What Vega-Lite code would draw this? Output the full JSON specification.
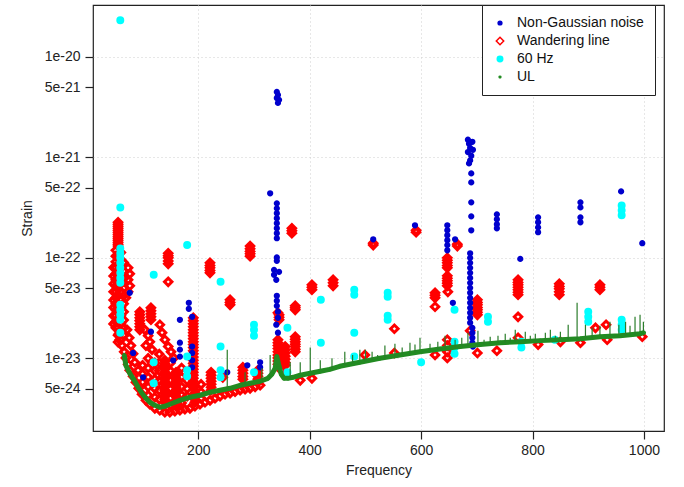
{
  "$schema": "https://vega.github.io/schema/vega-lite/v6.json",
  "width": 571,
  "height": 426,
  "autosize": {"type": "none"},
  "padding": {"left": 93, "top": 5, "right": 20, "bottom": 56},
  "background": "white",
  "config": {
    "font": "Liberation Sans",
    "view": {"stroke": "#222", "strokeWidth": 1.2},
    "axis": {"labelFont": "Liberation Sans", "titleFont": "Liberation Sans", "labelFontSize": 14, "titleFontSize": 14, "titleFontWeight": "normal", "labelColor": "#222", "titleColor": "#222", "tickColor": "#222", "tickSize": 8, "tickWidth": 1.2, "domain": false, "gridColor": "#cfcfcf", "gridDash": [1, 3], "gridWidth": 1},
    "legend": {"strokeColor": "#222", "fillColor": "white", "padding": 11, "labelFont": "Liberation Sans", "labelFontSize": 14, "labelColor": "#111", "labelOffset": 10, "rowPadding": 4, "symbolStrokeWidth": 1.5}
  },
  "datasets": {
    "pts": [
      {"t":"W","f":56,"h":2.26e-22},{"t":"W","f":56,"h":2.06e-22},{"t":"W","f":56,"h":1.88e-22},{"t":"W","f":56,"h":1.72e-22},{"t":"W","f":56,"h":1.57e-22},{"t":"W","f":56,"h":1.43e-22},{"t":"W","f":56,"h":1.31e-22},
      {"t":"W","f":56,"h":2.16e-22},{"t":"W","f":56,"h":1.97e-22},{"t":"W","f":56,"h":1.8e-22},{"t":"W","f":56,"h":1.64e-22},{"t":"W","f":56,"h":1.5e-22},{"t":"W","f":56,"h":1.37e-22},
      {"t":"W","f":56,"h":1.05e-22},{"t":"W","f":56,"h":8.5e-23},{"t":"W","f":56,"h":7.2e-23},{"t":"W","f":56,"h":5.8e-23},{"t":"W","f":56,"h":4.9e-23},{"t":"W","f":56,"h":4.2e-23},{"t":"W","f":56,"h":3.5e-23},{"t":"W","f":56,"h":2.9e-23},{"t":"W","f":56,"h":2.45e-23},{"t":"W","f":56,"h":2.05e-23},{"t":"W","f":56,"h":1.7e-23},{"t":"W","f":56,"h":1.45e-23},
      {"t":"W","f":48,"h":8.0e-23},{"t":"W","f":48,"h":6.6e-23},{"t":"W","f":48,"h":5.5e-23},{"t":"W","f":48,"h":4.6e-23},{"t":"W","f":48,"h":3.8e-23},{"t":"W","f":48,"h":3.2e-23},{"t":"W","f":48,"h":2.65e-23},{"t":"W","f":48,"h":2.2e-23},
      {"t":"W","f":66,"h":9.0e-23},{"t":"W","f":66,"h":7.4e-23},{"t":"W","f":66,"h":6.2e-23},{"t":"W","f":66,"h":5.0e-23},{"t":"W","f":66,"h":4.2e-23},{"t":"W","f":66,"h":3.5e-23},{"t":"W","f":66,"h":2.9e-23},{"t":"W","f":66,"h":2.4e-23},{"t":"W","f":66,"h":2.0e-23},{"t":"W","f":66,"h":1.7e-23},
      {"t":"W","f":52,"h":1.19e-22},{"t":"W","f":52,"h":1.04e-22},{"t":"W","f":52,"h":9.13e-23},{"t":"W","f":52,"h":7.95e-23},{"t":"W","f":52,"h":6.93e-23},{"t":"W","f":52,"h":6.04e-23},{"t":"W","f":52,"h":5.27e-23},{"t":"W","f":52,"h":4.59e-23},{"t":"W","f":52,"h":4.0e-23},{"t":"W","f":52,"h":3.49e-23},{"t":"W","f":52,"h":3.04e-23},{"t":"W","f":52,"h":2.65e-23},{"t":"W","f":52,"h":2.31e-23},{"t":"W","f":52,"h":2.01e-23},
      {"t":"W","f":61,"h":1.13e-22},{"t":"W","f":61,"h":9.55e-23},{"t":"W","f":61,"h":7.95e-23},{"t":"W","f":61,"h":6.62e-23},{"t":"W","f":61,"h":5.51e-23},{"t":"W","f":61,"h":4.59e-23},{"t":"W","f":61,"h":3.82e-23},{"t":"W","f":61,"h":3.18e-23},{"t":"W","f":61,"h":2.65e-23},{"t":"W","f":61,"h":2.21e-23},{"t":"W","f":61,"h":1.84e-23},{"t":"W","f":61,"h":1.53e-23},
      {"t":"W","f":74,"h":7.95e-23},{"t":"W","f":77,"h":6.93e-23},{"t":"W","f":74,"h":6.04e-23},{"t":"W","f":77,"h":5.27e-23},{"t":"W","f":74,"h":4.59e-23},{"t":"W","f":70,"h":4.0e-23},
      {"t":"W","f":58,"h":1.76e-23},{"t":"W","f":59,"h":1.53e-23},{"t":"W","f":63,"h":1.34e-23},{"t":"W","f":67,"h":1.16e-23},{"t":"W","f":70,"h":1.01e-23},{"t":"W","f":74,"h":8.72e-24},{"t":"W","f":77,"h":7.6e-24},{"t":"W","f":83,"h":6.62e-24},{"t":"W","f":88,"h":5.77e-24},{"t":"W","f":93,"h":5.03e-24},{"t":"W","f":99,"h":4.39e-24},{"t":"W","f":106,"h":3.82e-24},{"t":"W","f":113,"h":3.49e-24},{"t":"W","f":122,"h":3.18e-24},{"t":"W","f":131,"h":3.04e-24},{"t":"W","f":140,"h":2.91e-24},{"t":"W","f":149,"h":2.91e-24},{"t":"W","f":158,"h":2.97e-24},{"t":"W","f":167,"h":3.04e-24},{"t":"W","f":176,"h":3.11e-24},{"t":"W","f":185,"h":3.18e-24},{"t":"W","f":194,"h":3.33e-24},{"t":"W","f":203,"h":3.49e-24},{"t":"W","f":212,"h":3.65e-24},{"t":"W","f":221,"h":3.82e-24},{"t":"W","f":230,"h":4.0e-24},{"t":"W","f":239,"h":4.19e-24},{"t":"W","f":248,"h":4.39e-24},{"t":"W","f":257,"h":4.49e-24},{"t":"W","f":266,"h":4.65e-24},{"t":"W","f":275,"h":4.81e-24},{"t":"W","f":284,"h":4.92e-24},{"t":"W","f":293,"h":5.03e-24},{"t":"W","f":302,"h":5.2e-24},{"t":"W","f":311,"h":5.39e-24},
      {"t":"W","f":72,"h":1.92e-23},{"t":"W","f":76,"h":1.6e-23},{"t":"W","f":79,"h":1.34e-23},{"t":"W","f":83,"h":1.11e-23},{"t":"W","f":86,"h":9.13e-24},{"t":"W","f":92,"h":7.6e-24},
      {"t":"W","f":100,"h":8.5e-24},{"t":"W","f":100,"h":7.0e-24},{"t":"W","f":100,"h":5.8e-24},
      {"t":"W","f":110,"h":1.0e-23},{"t":"W","f":110,"h":8.0e-24},{"t":"W","f":110,"h":6.5e-24},{"t":"W","f":110,"h":5.2e-24},{"t":"W","f":110,"h":4.3e-24},
      {"t":"W","f":122,"h":9.0e-24},{"t":"W","f":122,"h":7.5e-24},{"t":"W","f":122,"h":6.2e-24},{"t":"W","f":122,"h":5.0e-24},{"t":"W","f":122,"h":4.1e-24},
      {"t":"W","f":130,"h":1.1e-23},{"t":"W","f":130,"h":9.0e-24},{"t":"W","f":130,"h":7.5e-24},{"t":"W","f":130,"h":6.0e-24},{"t":"W","f":130,"h":4.8e-24},{"t":"W","f":130,"h":3.9e-24},
      {"t":"W","f":150,"h":9.0e-24},{"t":"W","f":150,"h":7.5e-24},{"t":"W","f":150,"h":6.0e-24},{"t":"W","f":150,"h":5.0e-24},{"t":"W","f":150,"h":4.0e-24},{"t":"W","f":150,"h":3.4e-24},
      {"t":"W","f":170,"h":8.0e-24},{"t":"W","f":170,"h":6.5e-24},{"t":"W","f":170,"h":5.2e-24},{"t":"W","f":170,"h":4.3e-24},{"t":"W","f":170,"h":3.6e-24},
      {"t":"W","f":180,"h":6.0e-24},{"t":"W","f":180,"h":5.0e-24},{"t":"W","f":180,"h":4.2e-24},
      {"t":"W","f":205,"h":5.5e-24},{"t":"W","f":205,"h":4.6e-24},{"t":"W","f":205,"h":4.0e-24},
      {"t":"W","f":95,"h":2.91e-23},{"t":"W","f":95,"h":2.53e-23},{"t":"W","f":95,"h":2.21e-23},{"t":"W","f":95,"h":1.92e-23},{"t":"W","f":95,"h":2.72e-23},{"t":"W","f":95,"h":2.37e-23},{"t":"W","f":95,"h":2.06e-23},
      {"t":"W","f":115,"h":3.18e-23},{"t":"W","f":115,"h":2.78e-23},{"t":"W","f":115,"h":2.42e-23},{"t":"W","f":115,"h":2.97e-23},{"t":"W","f":115,"h":2.6e-23},
      {"t":"W","f":104,"h":1.92e-23},{"t":"W","f":110,"h":1.68e-23},{"t":"W","f":113,"h":1.46e-23},{"t":"W","f":106,"h":1.34e-23},{"t":"W","f":117,"h":1.22e-23},
      {"t":"W","f":131,"h":2.16e-23},{"t":"W","f":135,"h":1.8e-23},{"t":"W","f":140,"h":1.53e-23},{"t":"W","f":146,"h":1.31e-23},{"t":"W","f":151,"h":1.16e-23},{"t":"W","f":156,"h":1.01e-23},
      {"t":"W","f":140,"h":9.55e-24},{"t":"W","f":140,"h":8.33e-24},{"t":"W","f":140,"h":7.26e-24},{"t":"W","f":140,"h":6.32e-24},{"t":"W","f":140,"h":5.51e-24},{"t":"W","f":140,"h":4.81e-24},{"t":"W","f":140,"h":4.19e-24},{"t":"W","f":140,"h":3.65e-24},
      {"t":"W","f":140,"h":8.9e-24},{"t":"W","f":140,"h":7.8e-24},{"t":"W","f":140,"h":6.8e-24},{"t":"W","f":140,"h":5.9e-24},{"t":"W","f":140,"h":5.15e-24},{"t":"W","f":140,"h":4.5e-24},{"t":"W","f":140,"h":3.9e-24},
      {"t":"W","f":160,"h":7.26e-24},{"t":"W","f":160,"h":6.32e-24},{"t":"W","f":160,"h":5.51e-24},{"t":"W","f":160,"h":4.81e-24},{"t":"W","f":160,"h":4.19e-24},{"t":"W","f":164,"h":3.82e-24},{"t":"W","f":164,"h":3.33e-24},
      {"t":"W","f":160,"h":6.8e-24},{"t":"W","f":160,"h":5.9e-24},{"t":"W","f":160,"h":5.15e-24},{"t":"W","f":160,"h":4.5e-24},{"t":"W","f":162,"h":4.0e-24},{"t":"W","f":162,"h":3.55e-24},
      {"t":"W","f":191,"h":2.53e-23},{"t":"W","f":191,"h":2.21e-23},{"t":"W","f":191,"h":1.92e-23},{"t":"W","f":191,"h":1.68e-23},{"t":"W","f":191,"h":1.46e-23},{"t":"W","f":191,"h":1.28e-23},{"t":"W","f":191,"h":1.11e-23},{"t":"W","f":191,"h":9.55e-24},{"t":"W","f":191,"h":8.33e-24},{"t":"W","f":191,"h":7.26e-24},{"t":"W","f":191,"h":6.32e-24},{"t":"W","f":191,"h":5.51e-24},
      {"t":"W","f":191,"h":2.37e-23},{"t":"W","f":191,"h":2.06e-23},{"t":"W","f":191,"h":1.8e-23},{"t":"W","f":191,"h":1.57e-23},{"t":"W","f":191,"h":1.37e-23},{"t":"W","f":191,"h":1.19e-23},{"t":"W","f":191,"h":1.03e-23},{"t":"W","f":191,"h":8.9e-24},{"t":"W","f":191,"h":7.8e-24},{"t":"W","f":191,"h":6.8e-24},{"t":"W","f":191,"h":5.9e-24},{"t":"W","f":192,"h":5.15e-24},
      {"t":"W","f":194,"h":4.81e-24},{"t":"W","f":194,"h":4.19e-24},{"t":"W","f":194,"h":3.65e-24},{"t":"W","f":194,"h":4.5e-24},{"t":"W","f":194,"h":3.9e-24},
      {"t":"W","f":223,"h":7.26e-24},{"t":"W","f":223,"h":6.32e-24},{"t":"W","f":223,"h":5.51e-24},{"t":"W","f":223,"h":4.81e-24},{"t":"W","f":223,"h":6.8e-24},{"t":"W","f":223,"h":5.9e-24},{"t":"W","f":223,"h":5.15e-24},
      {"t":"W","f":280,"h":8.14e-24},{"t":"W","f":280,"h":7.09e-24},{"t":"W","f":280,"h":6.18e-24},{"t":"W","f":280,"h":7.6e-24},{"t":"W","f":280,"h":6.6e-24},
      {"t":"W","f":307,"h":7.6e-24},{"t":"W","f":307,"h":6.62e-24},{"t":"W","f":307,"h":5.77e-24},{"t":"W","f":307,"h":7.1e-24},{"t":"W","f":307,"h":6.2e-24},
      {"t":"W","f":257,"h":3.82e-23},{"t":"W","f":257,"h":3.41e-23},{"t":"W","f":257,"h":3.6e-23},{"t":"W","f":244,"h":6.47e-24},
      {"t":"W","f":146,"h":1.11e-22},{"t":"W","f":146,"h":1.0e-22},{"t":"W","f":146,"h":8.72e-23},{"t":"W","f":146,"h":1.05e-22},{"t":"W","f":146,"h":9.3e-23},{"t":"W","f":146,"h":5.77e-23},
      {"t":"W","f":221,"h":8.92e-23},{"t":"W","f":221,"h":7.95e-23},{"t":"W","f":221,"h":7.09e-23},{"t":"W","f":221,"h":8.4e-23},{"t":"W","f":221,"h":7.5e-23},
      {"t":"W","f":293,"h":1.31e-22},{"t":"W","f":293,"h":1.16e-22},{"t":"W","f":293,"h":1.04e-22},{"t":"W","f":293,"h":1.23e-22},{"t":"W","f":293,"h":1.1e-22},
      {"t":"W","f":368,"h":1.97e-22},{"t":"W","f":368,"h":1.76e-22},{"t":"W","f":368,"h":1.86e-22},
      {"t":"W","f":404,"h":5.39e-23},{"t":"W","f":404,"h":4.81e-23},{"t":"W","f":404,"h":5.1e-23},
      {"t":"W","f":442,"h":6.04e-23},{"t":"W","f":442,"h":5.27e-23},{"t":"W","f":442,"h":5.65e-23},
      {"t":"W","f":345,"h":2.71e-23},{"t":"W","f":345,"h":2.42e-23},{"t":"W","f":345,"h":2.56e-23},
      {"t":"W","f":374,"h":1.64e-23},{"t":"W","f":374,"h":1.46e-23},{"t":"W","f":374,"h":1.31e-23},{"t":"W","f":374,"h":1.16e-23},{"t":"W","f":374,"h":1.55e-23},{"t":"W","f":374,"h":1.38e-23},{"t":"W","f":374,"h":1.23e-23},{"t":"W","f":374,"h":3.33e-23},{"t":"W","f":374,"h":3.04e-23},{"t":"W","f":374,"h":3.18e-23},
      {"t":"W","f":343,"h":2.84e-23},{"t":"W","f":343,"h":1.53e-23},{"t":"W","f":343,"h":1.34e-23},{"t":"W","f":343,"h":1.16e-23},{"t":"W","f":343,"h":1.01e-23},{"t":"W","f":343,"h":8.72e-24},{"t":"W","f":343,"h":1.43e-23},{"t":"W","f":343,"h":1.25e-23},{"t":"W","f":343,"h":1.08e-23},{"t":"W","f":343,"h":9.4e-24},
      {"t":"W","f":356,"h":1.31e-23},{"t":"W","f":356,"h":1.13e-23},{"t":"W","f":356,"h":9.77e-24},{"t":"W","f":356,"h":8.52e-24},{"t":"W","f":356,"h":1.22e-23},{"t":"W","f":356,"h":1.05e-23},{"t":"W","f":356,"h":9.1e-24},{"t":"W","f":349,"h":7.6e-24},
      {"t":"W","f":514,"h":1.34e-22},{"t":"W","f":514,"h":1.4e-22},{"t":"W","f":591,"h":1.8e-22},{"t":"W","f":591,"h":1.88e-22},
      {"t":"W","f":647,"h":1.0e-22},{"t":"W","f":647,"h":8.92e-23},{"t":"W","f":647,"h":7.95e-23},{"t":"W","f":647,"h":9.45e-23},{"t":"W","f":647,"h":8.4e-23},{"t":"W","f":647,"h":6.62e-23},{"t":"W","f":647,"h":5.91e-23},{"t":"W","f":647,"h":5.27e-23},{"t":"W","f":647,"h":6.25e-23},{"t":"W","f":647,"h":5.6e-23},{"t":"W","f":648,"h":4.59e-23},
      {"t":"W","f":665,"h":1.31e-22},{"t":"W","f":665,"h":1.37e-22},
      {"t":"W","f":625,"h":4.49e-23},{"t":"W","f":625,"h":4.0e-23},{"t":"W","f":625,"h":4.25e-23},{"t":"W","f":625,"h":3.26e-23},
      {"t":"W","f":701,"h":3.82e-23},{"t":"W","f":701,"h":3.41e-23},{"t":"W","f":701,"h":3.04e-23},{"t":"W","f":701,"h":2.71e-23},{"t":"W","f":701,"h":3.6e-23},{"t":"W","f":701,"h":3.2e-23},{"t":"W","f":701,"h":2.87e-23},{"t":"W","f":688,"h":1.88e-23},
      {"t":"W","f":774,"h":6.04e-23},{"t":"W","f":774,"h":5.39e-23},{"t":"W","f":774,"h":4.81e-23},{"t":"W","f":774,"h":4.29e-23},{"t":"W","f":774,"h":5.7e-23},{"t":"W","f":774,"h":5.1e-23},{"t":"W","f":774,"h":4.55e-23},{"t":"W","f":774,"h":2.59e-23},{"t":"W","f":774,"h":1.6e-23},
      {"t":"W","f":848,"h":5.51e-23},{"t":"W","f":848,"h":4.92e-23},{"t":"W","f":848,"h":4.29e-23},{"t":"W","f":848,"h":5.2e-23},{"t":"W","f":848,"h":4.6e-23},
      {"t":"W","f":921,"h":5.39e-23},{"t":"W","f":921,"h":4.81e-23},{"t":"W","f":921,"h":5.1e-23},
      {"t":"W","f":913,"h":2.01e-23},{"t":"W","f":932,"h":2.16e-23},{"t":"W","f":997,"h":1.64e-23},{"t":"W","f":886,"h":1.43e-23},{"t":"W","f":934,"h":1.53e-23},{"t":"W","f":810,"h":1.37e-23},{"t":"W","f":736,"h":1.19e-23},{"t":"W","f":701,"h":1.13e-23},{"t":"W","f":850,"h":1.46e-23},
      {"t":"W","f":499,"h":1.08e-23},{"t":"W","f":552,"h":1.13e-23},{"t":"W","f":552,"h":1.97e-23},{"t":"W","f":625,"h":1.08e-23},
      {"t":"W","f":647,"h":1.53e-23},{"t":"W","f":647,"h":1.34e-23},{"t":"W","f":647,"h":1.16e-23},{"t":"W","f":647,"h":1.01e-23},
      {"t":"W","f":404,"h":6.32e-24},{"t":"W","f":383,"h":6.04e-24},

      {"t":"N","f":77,"h":4.49e-23},{"t":"N","f":83,"h":1.13e-23},{"t":"N","f":101,"h":6.47e-24},{"t":"N","f":115,"h":1.84e-23},{"t":"N","f":155,"h":9.55e-24},
      {"t":"N","f":167,"h":2.42e-23},{"t":"N","f":167,"h":1.43e-23},{"t":"N","f":167,"h":1.22e-23},{"t":"N","f":167,"h":1.04e-23},
      {"t":"N","f":183,"h":3.57e-23},{"t":"N","f":183,"h":3.11e-23},{"t":"N","f":189,"h":2.59e-23},{"t":"N","f":189,"h":1.31e-23},{"t":"N","f":189,"h":1.13e-23},{"t":"N","f":189,"h":9.55e-24},{"t":"N","f":189,"h":8.14e-24},
      {"t":"N","f":252,"h":7.26e-24},{"t":"N","f":288,"h":8.52e-24},{"t":"N","f":311,"h":9.13e-24},{"t":"N","f":311,"h":8.14e-24},
      {"t":"N","f":341,"h":4.49e-21},{"t":"N","f":343,"h":4.19e-21},{"t":"N","f":341,"h":3.91e-21},{"t":"N","f":345,"h":3.74e-21},{"t":"N","f":343,"h":3.49e-21},
      {"t":"N","f":329,"h":4.39e-22},{"t":"N","f":341,"h":3.49e-22},{"t":"N","f":341,"h":3.11e-22},{"t":"N","f":341,"h":2.78e-22},{"t":"N","f":341,"h":2.48e-22},{"t":"N","f":341,"h":2.21e-22},{"t":"N","f":341,"h":1.97e-22},{"t":"N","f":341,"h":1.76e-22},{"t":"N","f":341,"h":1.57e-22},{"t":"N","f":341,"h":1.01e-22},{"t":"N","f":341,"h":9.34e-23},
      {"t":"N","f":336,"h":7.6e-23},{"t":"N","f":336,"h":6.78e-23},{"t":"N","f":345,"h":7.26e-23},{"t":"N","f":340,"h":6.04e-23},{"t":"N","f":341,"h":4.19e-23},{"t":"N","f":341,"h":3.74e-23},{"t":"N","f":341,"h":3.33e-23},{"t":"N","f":343,"h":2.91e-23},{"t":"N","f":343,"h":2.53e-23},{"t":"N","f":343,"h":1.8e-23},{"t":"N","f":340,"h":2.16e-23},
      {"t":"N","f":684,"h":1.5e-21},{"t":"N","f":686,"h":1.37e-21},{"t":"N","f":688,"h":1.24e-21},{"t":"N","f":684,"h":1.13e-21},{"t":"N","f":690,"h":1.04e-21},{"t":"N","f":688,"h":9.34e-22},{"t":"N","f":686,"h":8.72e-22},{"t":"N","f":692,"h":1.43e-21},{"t":"N","f":693,"h":1.19e-21},
      {"t":"N","f":690,"h":6.93e-22},{"t":"N","f":690,"h":5.64e-22},{"t":"N","f":690,"h":3.57e-22},{"t":"N","f":690,"h":2.59e-22},{"t":"N","f":690,"h":1.88e-22},
      {"t":"N","f":688,"h":1.11e-22},{"t":"N","f":688,"h":1.0e-22},{"t":"N","f":688,"h":8.92e-23},{"t":"N","f":688,"h":7.95e-23},{"t":"N","f":688,"h":7.09e-23},{"t":"N","f":688,"h":6.32e-23},{"t":"N","f":688,"h":5.64e-23},{"t":"N","f":688,"h":5.03e-23},{"t":"N","f":688,"h":4.49e-23},{"t":"N","f":688,"h":4.0e-23},{"t":"N","f":688,"h":3.57e-23},{"t":"N","f":688,"h":3.18e-23},{"t":"N","f":688,"h":2.84e-23},{"t":"N","f":688,"h":2.53e-23},{"t":"N","f":688,"h":2.26e-23},
      {"t":"N","f":692,"h":2.01e-23},{"t":"N","f":692,"h":1.8e-23},{"t":"N","f":692,"h":1.6e-23},{"t":"N","f":692,"h":1.43e-23},{"t":"N","f":693,"h":1.31e-23},
      {"t":"N","f":514,"h":1.53e-22},{"t":"N","f":589,"h":2.11e-22},
      {"t":"N","f":647,"h":2.11e-22},{"t":"N","f":647,"h":1.88e-22},{"t":"N","f":647,"h":1.68e-22},{"t":"N","f":647,"h":1.5e-22},{"t":"N","f":647,"h":1.34e-22},{"t":"N","f":647,"h":1.19e-22},
      {"t":"N","f":661,"h":1.53e-22},{"t":"N","f":657,"h":3.57e-23},
      {"t":"N","f":736,"h":2.71e-22},{"t":"N","f":736,"h":2.42e-22},{"t":"N","f":736,"h":2.16e-22},{"t":"N","f":736,"h":1.97e-22},
      {"t":"N","f":810,"h":2.53e-22},{"t":"N","f":810,"h":2.26e-22},{"t":"N","f":810,"h":2.01e-22},{"t":"N","f":810,"h":1.8e-22},
      {"t":"N","f":886,"h":3.57e-22},{"t":"N","f":886,"h":3.18e-22},{"t":"N","f":886,"h":2.53e-22},{"t":"N","f":886,"h":2.26e-22},
      {"t":"N","f":959,"h":4.59e-22},{"t":"N","f":997,"h":1.4e-22},{"t":"N","f":778,"h":9.77e-23},

      {"t":"H","f":60,"h":2.32e-20},{"t":"H","f":60,"h":3.18e-22},
      {"t":"H","f":60,"h":1.24e-22},{"t":"H","f":60,"h":1.11e-22},{"t":"H","f":60,"h":1.0e-22},{"t":"H","f":60,"h":8.92e-23},{"t":"H","f":60,"h":7.95e-23},{"t":"H","f":60,"h":7.09e-23},{"t":"H","f":60,"h":6.32e-23},{"t":"H","f":60,"h":5.64e-23},
      {"t":"H","f":60,"h":3.41e-23},{"t":"H","f":60,"h":3.04e-23},{"t":"H","f":60,"h":2.71e-23},{"t":"H","f":60,"h":2.42e-23},{"t":"H","f":60,"h":1.8e-23},
      {"t":"H","f":120,"h":6.78e-23},{"t":"H","f":180,"h":1.34e-22},{"t":"H","f":240,"h":5.77e-23},
      {"t":"H","f":120,"h":9.13e-24},{"t":"H","f":120,"h":5.64e-24},
      {"t":"H","f":180,"h":1.04e-23},{"t":"H","f":180,"h":7.6e-24},{"t":"H","f":180,"h":6.62e-24},
      {"t":"H","f":240,"h":1.31e-23},{"t":"H","f":240,"h":7.6e-24},{"t":"H","f":240,"h":6.47e-24},
      {"t":"H","f":300,"h":2.16e-23},{"t":"H","f":300,"h":1.92e-23},{"t":"H","f":300,"h":1.68e-23},{"t":"H","f":300,"h":7.26e-24},
      {"t":"H","f":360,"h":2.01e-23},{"t":"H","f":360,"h":7.26e-24},
      {"t":"H","f":420,"h":3.82e-23},{"t":"H","f":420,"h":1.43e-23},
      {"t":"H","f":480,"h":4.81e-23},{"t":"H","f":480,"h":4.29e-23},{"t":"H","f":480,"h":1.8e-23},{"t":"H","f":480,"h":1.04e-23},
      {"t":"H","f":540,"h":4.49e-23},{"t":"H","f":540,"h":4.1e-23},{"t":"H","f":540,"h":2.65e-23},{"t":"H","f":540,"h":2.42e-23},
      {"t":"H","f":600,"h":9.13e-24},
      {"t":"H","f":660,"h":3.04e-23},{"t":"H","f":660,"h":1.46e-23},{"t":"H","f":660,"h":1.28e-23},{"t":"H","f":660,"h":1.11e-23},
      {"t":"H","f":720,"h":2.59e-23},{"t":"H","f":720,"h":2.31e-23},
      {"t":"H","f":780,"h":1.46e-23},{"t":"H","f":780,"h":1.28e-23},
      {"t":"H","f":840,"h":1.53e-23},
      {"t":"H","f":900,"h":2.91e-23},{"t":"H","f":900,"h":2.59e-23},{"t":"H","f":900,"h":2.31e-23},
      {"t":"H","f":960,"h":3.33e-22},{"t":"H","f":960,"h":2.97e-22},{"t":"H","f":960,"h":2.65e-22},
      {"t":"H","f":960,"h":2.42e-23},{"t":"H","f":960,"h":2.16e-23},{"t":"H","f":960,"h":1.92e-23}
    ],
    "ul": [
      {"t":"U","f":67,"h":1.08e-23},{"t":"U","f":70,"h":8.52e-24},{"t":"U","f":77,"h":7.09e-24},{"t":"U","f":85,"h":6.04e-24},{"t":"U","f":92,"h":5.15e-24},{"t":"U","f":99,"h":4.49e-24},{"t":"U","f":106,"h":4.0e-24},{"t":"U","f":113,"h":3.65e-24},{"t":"U","f":122,"h":3.41e-24},{"t":"U","f":131,"h":3.26e-24},{"t":"U","f":140,"h":3.33e-24},{"t":"U","f":149,"h":3.49e-24},{"t":"U","f":158,"h":3.65e-24},{"t":"U","f":167,"h":3.82e-24},{"t":"U","f":185,"h":4.1e-24},{"t":"U","f":203,"h":4.29e-24},{"t":"U","f":221,"h":4.59e-24},{"t":"U","f":239,"h":4.81e-24},{"t":"U","f":257,"h":5.03e-24},{"t":"U","f":275,"h":5.39e-24},{"t":"U","f":293,"h":5.64e-24},{"t":"U","f":311,"h":5.91e-24},{"t":"U","f":325,"h":6.32e-24},{"t":"U","f":332,"h":6.93e-24},{"t":"U","f":338,"h":7.95e-24},{"t":"U","f":341,"h":1.04e-23},{"t":"U","f":345,"h":8.33e-24},{"t":"U","f":349,"h":6.93e-24},{"t":"U","f":354,"h":6.32e-24},{"t":"U","f":361,"h":6.32e-24},{"t":"U","f":370,"h":6.47e-24},{"t":"U","f":383,"h":6.78e-24},{"t":"U","f":401,"h":7.09e-24},{"t":"U","f":419,"h":7.43e-24},{"t":"U","f":436,"h":7.77e-24},{"t":"U","f":454,"h":8.33e-24},{"t":"U","f":490,"h":9.13e-24},{"t":"U","f":526,"h":1.0e-23},{"t":"U","f":562,"h":1.08e-23},{"t":"U","f":598,"h":1.16e-23},{"t":"U","f":634,"h":1.24e-23},{"t":"U","f":670,"h":1.31e-23},{"t":"U","f":706,"h":1.37e-23},{"t":"U","f":742,"h":1.43e-23},{"t":"U","f":778,"h":1.46e-23},{"t":"U","f":814,"h":1.5e-23},{"t":"U","f":850,"h":1.53e-23},{"t":"U","f":886,"h":1.57e-23},{"t":"U","f":921,"h":1.64e-23},{"t":"U","f":957,"h":1.68e-23},{"t":"U","f":993,"h":1.76e-23},{"t":"U","f":1000,"h":1.8e-23}
    ],
    "spk": [
      {"f":252,"lo":5.0e-24,"h":1.22e-23},{"f":284,"lo":5.5e-24,"h":7.26e-24},{"f":314,"lo":5.9e-24,"h":7.95e-24},{"f":329,"lo":6.4e-24,"h":1.08e-23},{"f":365,"lo":6.4e-24,"h":9.13e-24},{"f":383,"lo":6.8e-24,"h":9.13e-24},{"f":401,"lo":7.1e-24,"h":1.28e-23},{"f":419,"lo":7.4e-24,"h":9.55e-24},{"f":440,"lo":7.8e-24,"h":1.0e-23},{"f":463,"lo":8.6e-24,"h":1.16e-23},{"f":477,"lo":8.9e-24,"h":1.08e-23},{"f":490,"lo":9.1e-24,"h":1.22e-23},{"f":500,"lo":9.3e-24,"h":1.22e-23},{"f":512,"lo":9.6e-24,"h":1.16e-23},{"f":522,"lo":9.9e-24,"h":1.08e-23},{"f":535,"lo":1.0e-23,"h":1.34e-23},{"f":553,"lo":1.05e-23,"h":1.4e-23},{"f":566,"lo":1.08e-23,"h":1.28e-23},{"f":580,"lo":1.1e-23,"h":1.43e-23},{"f":589,"lo":1.13e-23,"h":1.37e-23},{"f":598,"lo":1.16e-23,"h":1.6e-23},{"f":616,"lo":1.2e-23,"h":1.4e-23},{"f":630,"lo":1.23e-23,"h":1.46e-23},{"f":643,"lo":1.25e-23,"h":1.68e-23},{"f":661,"lo":1.3e-23,"h":1.53e-23},{"f":673,"lo":1.31e-23,"h":1.6e-23},{"f":684,"lo":1.33e-23,"h":1.8e-23},{"f":702,"lo":1.36e-23,"h":1.88e-23},{"f":713,"lo":1.38e-23,"h":1.53e-23},{"f":724,"lo":1.4e-23,"h":1.64e-23},{"f":738,"lo":1.42e-23,"h":1.68e-23},{"f":751,"lo":1.43e-23,"h":1.76e-23},{"f":760,"lo":1.44e-23,"h":1.6e-23},{"f":769,"lo":1.45e-23,"h":1.92e-23},{"f":787,"lo":1.47e-23,"h":1.84e-23},{"f":796,"lo":1.48e-23,"h":1.68e-23},{"f":805,"lo":1.49e-23,"h":1.76e-23},{"f":823,"lo":1.51e-23,"h":1.8e-23},{"f":832,"lo":1.52e-23,"h":1.92e-23},{"f":841,"lo":1.53e-23,"h":1.68e-23},{"f":850,"lo":1.53e-23,"h":1.84e-23},{"f":864,"lo":1.55e-23,"h":2.16e-23},{"f":880,"lo":1.57e-23,"h":3.57e-23},{"f":895,"lo":1.6e-23,"h":2.16e-23},{"f":907,"lo":1.62e-23,"h":2.01e-23},{"f":921,"lo":1.64e-23,"h":2.11e-23},{"f":939,"lo":1.66e-23,"h":2.31e-23},{"f":955,"lo":1.68e-23,"h":2.16e-23},{"f":967,"lo":1.7e-23,"h":2.31e-23},{"f":975,"lo":1.72e-23,"h":2.11e-23},{"f":984,"lo":1.74e-23,"h":2.59e-23},{"f":993,"lo":1.76e-23,"h":2.71e-23},{"f":999,"lo":1.78e-23,"h":2.31e-23}
    ]
  },
  "encoding": {
    "x": {"field": "f", "type": "quantitative", "scale": {"domain": [11, 1036], "nice": false, "zero": false}, "axis": {"values": [200, 400, 600, 800, 1000], "format": "d", "title": "Frequency", "labelPadding": 4, "titlePadding": 6, "grid": true, "labelFlush": false}},
    "y": {"field": "h", "type": "quantitative", "scale": {"type": "log", "domain": [1.89e-24, 3.29e-20], "nice": false}, "axis": {"values": [1e-20, 5e-21, 1e-21, 5e-22, 1e-22, 5e-23, 1e-23, 5e-24], "labelExpr": "format(datum.value, '.0e')", "title": "Strain", "labelPadding": 5, "titlePadding": 10, "grid": true, "gridOpacity": {"condition": {"test": "datum.value == 1e-20 || datum.value == 1e-21 || datum.value == 1e-22 || datum.value == 1e-23", "value": 1}, "value": 0}}}
  },
  "layer": [
    {
      "data": {"name": "pts"},
      "transform": [{"filter": "datum.t == 'W'"}],
      "mark": {"type": "point", "strokeWidth": 3, "opacity": 1, "fillOpacity": 1, "strokeOpacity": 1},
      "encoding": {
        "fill": {"field": "t", "type": "nominal", "scale": {"domain": ["N", "W", "H", "U"], "range": ["#0000CD", "transparent", "#00FFFF", "#228B22"]}, "legend": {"title": null, "orient": "none", "legendX": 389, "legendY": 0, "labelExpr": "datum.label == 'N' ? 'Non-Gaussian noise' : datum.label == 'W' ? 'Wandering line' : datum.label == 'H' ? '60 Hz' : 'UL'"}},
        "stroke": {"field": "t", "type": "nominal", "scale": {"domain": ["N", "W", "H", "U"], "range": ["#0000CD", "#FF0000", "#00FFFF", "#228B22"]}, "legend": {"title": null, "orient": "none", "legendX": 389, "legendY": 0, "labelExpr": "datum.label == 'N' ? 'Non-Gaussian noise' : datum.label == 'W' ? 'Wandering line' : datum.label == 'H' ? '60 Hz' : 'UL'"}},
        "shape": {"field": "t", "type": "nominal", "scale": {"domain": ["N", "W", "H", "U"], "range": ["circle", "diamond", "circle", "circle"]}, "legend": {"title": null, "orient": "none", "legendX": 389, "legendY": 0, "labelExpr": "datum.label == 'N' ? 'Non-Gaussian noise' : datum.label == 'W' ? 'Wandering line' : datum.label == 'H' ? '60 Hz' : 'UL'"}},
        "size": {"field": "t", "type": "nominal", "scale": {"type": "ordinal", "domain": ["N", "W", "H", "U"], "range": [14, 55, 30, 3]}, "legend": {"title": null, "orient": "none", "legendX": 389, "legendY": 0, "labelExpr": "datum.label == 'N' ? 'Non-Gaussian noise' : datum.label == 'W' ? 'Wandering line' : datum.label == 'H' ? '60 Hz' : 'UL'"}}
      }
    },
    {
      "data": {"name": "pts"},
      "transform": [{"filter": "datum.t != 'W'"}],
      "mark": {"type": "point", "strokeWidth": 2.5, "opacity": 1, "fillOpacity": 1, "strokeOpacity": 1},
      "encoding": {
        "fill": {"field": "t", "type": "nominal", "scale": {"domain": ["N", "W", "H", "U"], "range": ["#0000CD", "transparent", "#00FFFF", "#228B22"]}, "legend": {"title": null, "orient": "none", "legendX": 389, "legendY": 0, "labelExpr": "datum.label == 'N' ? 'Non-Gaussian noise' : datum.label == 'W' ? 'Wandering line' : datum.label == 'H' ? '60 Hz' : 'UL'"}},
        "stroke": {"field": "t", "type": "nominal", "scale": {"domain": ["N", "W", "H", "U"], "range": ["#0000CD", "#FF0000", "#00FFFF", "#228B22"]}, "legend": {"title": null, "orient": "none", "legendX": 389, "legendY": 0, "labelExpr": "datum.label == 'N' ? 'Non-Gaussian noise' : datum.label == 'W' ? 'Wandering line' : datum.label == 'H' ? '60 Hz' : 'UL'"}},
        "shape": {"field": "t", "type": "nominal", "scale": {"domain": ["N", "W", "H", "U"], "range": ["circle", "diamond", "circle", "circle"]}, "legend": {"title": null, "orient": "none", "legendX": 389, "legendY": 0, "labelExpr": "datum.label == 'N' ? 'Non-Gaussian noise' : datum.label == 'W' ? 'Wandering line' : datum.label == 'H' ? '60 Hz' : 'UL'"}},
        "size": {"field": "t", "type": "nominal", "scale": {"type": "ordinal", "domain": ["N", "W", "H", "U"], "range": [14, 55, 30, 3]}, "legend": {"title": null, "orient": "none", "legendX": 389, "legendY": 0, "labelExpr": "datum.label == 'N' ? 'Non-Gaussian noise' : datum.label == 'W' ? 'Wandering line' : datum.label == 'H' ? '60 Hz' : 'UL'"}}
      }
    },
    {
      "data": {"name": "ul"},
      "mark": {"type": "line", "stroke": "#228B22", "strokeWidth": 5, "strokeJoin": "round"},
      "encoding": {}
    },
    {
      "data": {"name": "spk"},
      "mark": {"type": "rule", "stroke": "#2a7d2a", "strokeWidth": 1.2},
      "encoding": {"y2": {"field": "lo"}}
    },
    {
      "data": {"name": "ul"},
      "mark": {"type": "point", "strokeWidth": 2.5, "opacity": 1, "fillOpacity": 1, "strokeOpacity": 1},
      "encoding": {
        "fill": {"field": "t", "type": "nominal", "scale": {"domain": ["N", "W", "H", "U"], "range": ["#0000CD", "transparent", "#00FFFF", "#228B22"]}, "legend": {"title": null, "orient": "none", "legendX": 389, "legendY": 0, "labelExpr": "datum.label == 'N' ? 'Non-Gaussian noise' : datum.label == 'W' ? 'Wandering line' : datum.label == 'H' ? '60 Hz' : 'UL'"}},
        "stroke": {"field": "t", "type": "nominal", "scale": {"domain": ["N", "W", "H", "U"], "range": ["#0000CD", "#FF0000", "#00FFFF", "#228B22"]}, "legend": {"title": null, "orient": "none", "legendX": 389, "legendY": 0, "labelExpr": "datum.label == 'N' ? 'Non-Gaussian noise' : datum.label == 'W' ? 'Wandering line' : datum.label == 'H' ? '60 Hz' : 'UL'"}},
        "shape": {"field": "t", "type": "nominal", "scale": {"domain": ["N", "W", "H", "U"], "range": ["circle", "diamond", "circle", "circle"]}, "legend": {"title": null, "orient": "none", "legendX": 389, "legendY": 0, "labelExpr": "datum.label == 'N' ? 'Non-Gaussian noise' : datum.label == 'W' ? 'Wandering line' : datum.label == 'H' ? '60 Hz' : 'UL'"}},
        "size": {"field": "t", "type": "nominal", "scale": {"type": "ordinal", "domain": ["N", "W", "H", "U"], "range": [14, 55, 30, 3]}, "legend": {"title": null, "orient": "none", "legendX": 389, "legendY": 0, "labelExpr": "datum.label == 'N' ? 'Non-Gaussian noise' : datum.label == 'W' ? 'Wandering line' : datum.label == 'H' ? '60 Hz' : 'UL'"}}
      }
    }
  ]
}
